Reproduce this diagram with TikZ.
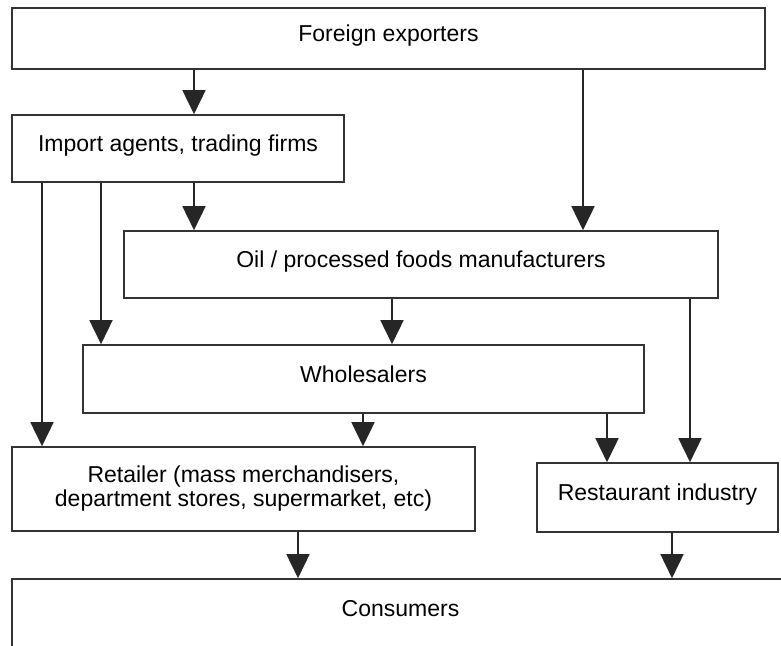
\documentclass[tikz,border=0pt]{standalone}
\usepackage{fontspec}
\setmainfont{Liberation Sans}
\usetikzlibrary{arrows.meta}
\tikzset{
  box/.style={draw=black!80, line width=1.6pt, rectangle, inner sep=0pt,
    font=\fontsize{23}{24}\selectfont, text=black},
  oneline/.style={text height=16pt, text depth=10pt},
  arr/.style={draw=black!85, line width=1.6pt, -{Triangle[width=23pt,length=24pt]}}
}
\begin{document}
\begin{tikzpicture}[x=1pt,y=-1pt]
\useasboundingbox (0,0) rectangle (781,645);
\clip (0,0) rectangle (781,645);
\node[box,oneline,minimum width=753pt,minimum height=61pt] (fe) at (388.5,38.5) {Foreign exporters};
\node[box,oneline,minimum width=332pt,minimum height=67pt] (imp) at (178,148.5) {Import agents, trading firms};
\node[box,oneline,minimum width=594pt,minimum height=67pt] (oil) at (421,264.5) {Oil / processed foods manufacturers};
\node[box,oneline,minimum width=561pt,minimum height=68pt] (whs) at (363.5,379) {Wholesalers};
\node[box,align=center,minimum width=463pt,minimum height=84pt] (ret) at (243.5,489) {Retailer (mass merchandisers,\\department stores, supermarket, etc)};
\node[box,oneline,minimum width=241pt,minimum height=69pt] (rest) at (657.5,497.5) {Restaurant industry};
\node[box,oneline,minimum width=777pt,minimum height=68pt] (con) at (400.5,613) {Consumers};
% column coordinates
\coordinate (c42) at (42,0);
\coordinate (c101) at (101,0);
\coordinate (c194) at (194,0);
\coordinate (c298) at (298,0);
\coordinate (c363) at (363,0);
\coordinate (c392) at (392,0);
\coordinate (c583) at (583,0);
\coordinate (c607) at (607,0);
\coordinate (c672) at (672,0);
\coordinate (c690) at (690,0);
% connectors
\draw[arr] (fe.south -| c194) -- (imp.north -| c194);
\draw[arr] (fe.south -| c583) -- (oil.north -| c583);
\draw[arr] (imp.south -| c194) -- (oil.north -| c194);
\draw[arr] (imp.south -| c101) -- (whs.north -| c101);
\draw[arr] (imp.south -| c42) -- (ret.north -| c42);
\draw[arr] (oil.south -| c392) -- (whs.north -| c392);
\draw[arr] (oil.south -| c690) -- (rest.north -| c690);
\draw[arr] (whs.south -| c363) -- (ret.north -| c363);
\draw[arr] (whs.south -| c607) -- (rest.north -| c607);
\draw[arr] (ret.south -| c298) -- (con.north -| c298);
\draw[arr] (rest.south -| c672) -- (con.north -| c672);
\end{tikzpicture}
\end{document}
